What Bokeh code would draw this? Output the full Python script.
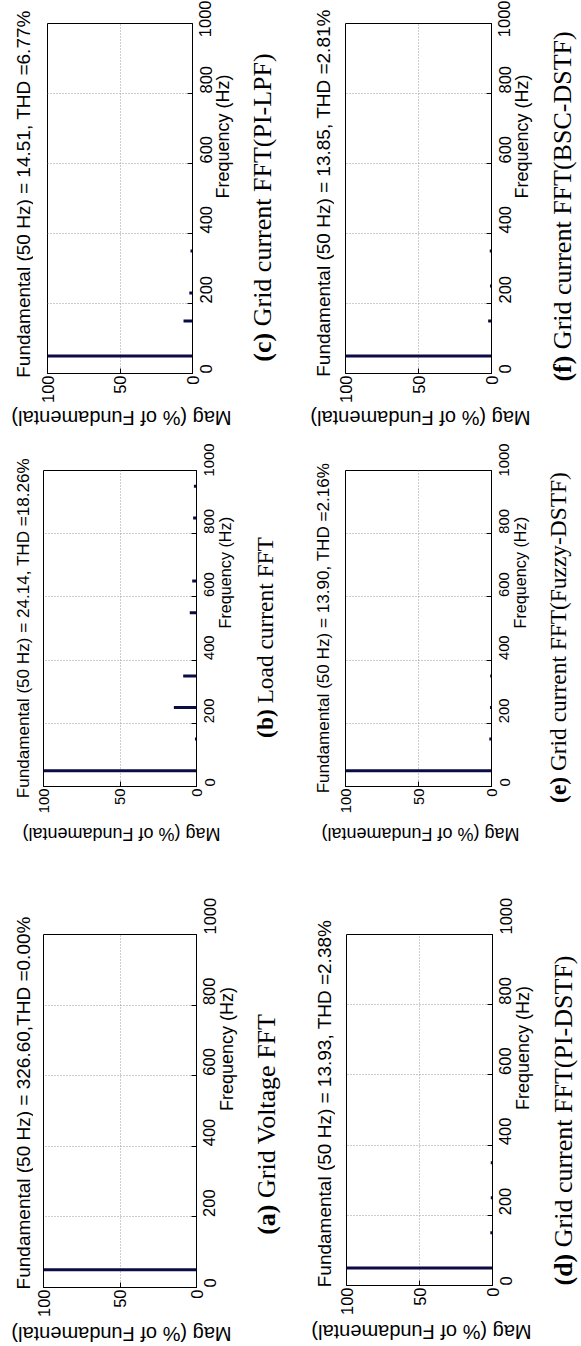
import math
from bokeh.plotting import figure
from bokeh.models import Range1d, Label, FixedTicker
from bokeh.layouts import column, row
from bokeh.embed import file_html
from bokeh.resources import INLINE

# ---------------- data ----------------
freq_ticks = [0, 200, 400, 600, 800, 1000]
mag_ticks = [0, 50, 100]

a_freq = [50]
a_mag = [100]
b_freq = [50, 150, 250, 350, 550, 650, 850, 950]
b_mag = [100, 1.0, 14.8, 8.7, 4.4, 2.8, 2.2, 1.7]
c_freq = [50, 150, 230, 350]
c_mag = [100, 6.2, 2.2, 1.4]
d_freq = [50, 150, 250, 350]
d_mag = [100, 1.5, 1.2, 1.2]
e_freq = [50, 150, 250, 350]
e_mag = [100, 1.5, 1.0, 0.9]
f_freq = [50, 150, 250, 350]
f_mag = [100, 2.3, 1.0, 1.2]

titles = {
    "a": "Fundamental (50 Hz) = 326.60,THD =0.00%",
    "b": "Fundamental (50 Hz) = 24.14, THD =18.26%",
    "c": "Fundamental (50 Hz) = 14.51, THD =6.77%",
    "d": "Fundamental (50 Hz) = 13.93, THD =2.38%",
    "e": "Fundamental (50 Hz) = 13.90, THD =2.16%",
    "f": "Fundamental (50 Hz) = 13.85, THD =2.81%",
}
cap_bold = {"a": "(a)", "b": "(b)", "c": "(c)", "d": "(d)", "e": "(e)", "f": "(f)"}
cap_rest = {
    "a": "Grid Voltage FFT",
    "b": "Load current FFT",
    "c": "Grid current FFT(PI-LPF)",
    "d": "Grid current FFT(PI-DSTF)",
    "e": "Grid current FFT(Fuzzy-DSTF)",
    "f": "Grid current FFT(BSC-DSTF)",
}
x_label = "Mag (% of Fundamental)"
y_label = "Frequency (Hz)"

# ---------------- styling helpers ----------------
TIMES_R = {' ': 250, '(': 333, ')': 333, '-': 333, 'A': 722, 'B': 667, 'C': 667, 'D': 722,
           'F': 556, 'G': 722, 'I': 333, 'L': 611, 'P': 556, 'S': 556, 'T': 611, 'V': 722,
           'Z': 611, 'a': 444, 'c': 444, 'd': 500, 'e': 444, 'g': 500, 'i': 278, 'l': 278,
           'n': 500, 'o': 500, 'r': 333, 't': 278, 'u': 500, 'y': 500, 'z': 444}
TIMES_B = {'(': 333, ')': 333, 'a': 500, 'b': 556, 'c': 444, 'd': 556, 'e': 444, 'f': 333}
ARIAL = {'M': 833, 'a': 556, 'g': 556, ' ': 278, '(': 333, '%': 889, 'o': 556, 'f': 278,
         'F': 611, 'u': 556, 'n': 556, 'd': 556, 'm': 833, 'e': 556, 't': 278, 'l': 222,
         ')': 333, 'H': 722, 'z': 500, '=': 584, '.': 278, ',': 278, 'T': 611, 'D': 722}


def tw(s, table, size):
    return sum(table.get(ch, 556) for ch in s) / 1000.0 * size


SANS = "Liberation Sans"
SERIF = "Liberation Serif"
BAR = "#0b0b45"

# page-coordinate geometry
BLOCK_COL = {1: (0, 290), 2: (290, 581)}
TITLE_COL = {1: (0, 33), 2: (290, 334)}
MAIN_RIGHT = {1: 248, 2: 540}
ROW = {1: (0, 440), 2: (440, 860), 3: (860, 1346)}
geom = {
    "c": dict(col=1, row=1, fx=(47, 192), fy=(23, 373), tick_bot=403, tcx=23, tcy=193.5,
              ccx=262, ccy=207, mcx=121, mcy=413, fs=1.0),
    "f": dict(col=2, row=1, fx=(345, 491), fy=(23, 373), tick_bot=403, tcx=322.5, tcy=192.5,
              ccx=557.5, ccy=206, mcx=420, mcy=413, fs=1.0),
    "b": dict(col=1, row=2, fx=(43, 196), fy=(467, 783), tick_bot=811, tcx=23, tcy=624.5,
              ccx=264.5, ccy=634, mcx=121, mcy=828.5, fs=0.9),
    "e": dict(col=2, row=2, fx=(345, 491), fy=(467, 783), tick_bot=811, tcx=322.5, tcy=624.5,
              ccx=557.5, ccy=634, mcx=420, mcy=828.5, fs=0.9),
    "a": dict(col=1, row=3, fx=(43, 196), fy=(929, 1282), tick_bot=1312, tcx=23, tcy=1097.5,
              ccx=265, ccy=1117, mcx=121, mcy=1325, fs=1.0),
    "d": dict(col=2, row=3, fx=(345, 491), fy=(929, 1280), tick_bot=1312, tcx=322.5, tcy=1098,
              ccx=557.5, ccy=1115, mcx=420, mcy=1325, fs=1.0),
}


def no_align(fig):
    if "frame_align" in fig.properties():
        fig.frame_align = False


def blank(w, h):
    q = figure(width=w, height=h, min_border=0, x_range=Range1d(0, w), y_range=Range1d(0, h),
               x_axis_type=None, y_axis_type=None, output_backend="svg",
               toolbar_location=None, tools="", title=None)
    q.outline_line_color = None
    q.grid.visible = False
    q.background_fill_color = "white"
    q.border_fill_color = "white"
    no_align(q)
    return q


def vlabel(q, x, y, text, font, size, style="normal"):
    # text rotated 90 deg counter-clockwise, starting at (x, y) and running upwards
    q.add_layout(Label(x=x, y=y, text=text, angle=math.pi / 2, text_align="left",
                       text_baseline="middle", text_font=font, text_font_style=style,
                       text_font_size="%.1fpx" % size, text_color="black"))


def make_panel(key, freqs, mags):
    g = geom[key]
    tx1 = TITLE_COL[g["col"]][1]
    cx1 = MAIN_RIGHT[g["col"]]
    cy0 = ROW[g["row"]][0]
    fx0, fx1 = g["fx"]
    fy0, fy1 = g["fy"]
    s = g["fs"]
    p = figure(frame_width=fx1 - fx0, frame_height=fy1 - fy0,
               min_border_left=fx0 - tx1, min_border_right=cx1 - fx1,
               min_border_top=fy0 - cy0, min_border_bottom=g["tick_bot"] - fy1,
               x_range=Range1d(100, 0), y_range=Range1d(0, 1000),
               y_axis_location="right", output_backend="svg",
               toolbar_location=None, tools="", title=None)
    no_align(p)
    p.background_fill_color = "white"
    p.border_fill_color = "white"
    p.outline_line_color = "black"
    p.outline_line_width = 1

    p.xgrid.ticker = FixedTicker(ticks=mag_ticks)
    p.ygrid.ticker = FixedTicker(ticks=freq_ticks)
    for gr in (p.xgrid, p.ygrid):
        gr.grid_line_color = "#9a9a9a"
        gr.grid_line_dash = "1 2"
        gr.grid_line_width = 1

    for ax, ticks in ((p.xaxis, mag_ticks), (p.yaxis, freq_ticks)):
        ax.ticker = FixedTicker(ticks=ticks)
        ax.major_label_orientation = math.pi / 2
        ax.major_label_text_font = SANS
        ax.major_label_text_font_size = "%.1fpx" % (16.5 * s)
        ax.major_label_text_color = "black"
        ax.major_tick_in = 5
        ax.major_tick_out = 0
        ax.minor_tick_line_color = None
        ax.axis_line_color = "black"
        ax.major_tick_line_color = "black"
        ax.axis_label_text_font = SANS
        ax.axis_label_text_font_style = "normal"
        ax.axis_label_text_color = "black"
    p.xaxis.major_label_standoff = 2
    p.yaxis.major_label_standoff = 13

    p.yaxis.axis_label = y_label
    p.yaxis.axis_label_text_font_size = "%.1fpx" % (18 * s)
    p.yaxis.axis_label_orientation = math.pi / 2
    p.yaxis.axis_label_standoff = 2

    p.segment(x0=[0] * len(freqs), y0=freqs, x1=mags, y1=freqs,
              line_color=BAR, line_width=3, line_cap="butt")
    return p


def make_title(key):
    g = geom[key]
    x0, x1 = TITLE_COL[g["col"]]
    y0 = ROW[g["row"]][0]
    y1 = g["tick_bot"]
    q = blank(x1 - x0, y1 - y0)
    sz = 19 * g["fs"]
    wt = tw(titles[key], ARIAL, sz)
    start_page = g["tcy"] + wt / 2.0
    vlabel(q, g["tcx"] - x0, y1 - start_page, titles[key], SANS, sz)
    return q


def make_caption(key):
    g = geom[key]
    x0 = MAIN_RIGHT[g["col"]]
    x1 = BLOCK_COL[g["col"]][1]
    y0 = ROW[g["row"]][0]
    y1 = g["tick_bot"]
    q = blank(x1 - x0, y1 - y0)
    csz = 26 * g["fs"]
    wb = tw(cap_bold[key], TIMES_B, csz)
    wsp = tw(" ", TIMES_R, csz)
    wr = tw(cap_rest[key], TIMES_R, csz)
    start_page = g["ccy"] + (wb + wsp + wr) / 2.0
    cx = g["ccx"] - x0
    vlabel(q, cx, y1 - start_page, cap_bold[key], SERIF, csz, "bold")
    vlabel(q, cx, y1 - (start_page - wb - wsp), cap_rest[key], SERIF, csz)
    return q


def make_maglabel(key):
    g = geom[key]
    cx0, cx1 = BLOCK_COL[g["col"]]
    top = g["tick_bot"]
    h = ROW[g["row"]][1] - top
    q = blank(cx1 - cx0, h)
    sz = 20 * g["fs"]
    wl = tw(x_label, ARIAL, sz)
    cy = max(g["mcy"], top + 11)
    # upside-down text: starts at its right end and runs leftwards
    q.add_layout(Label(x=g["mcx"] - cx0 + wl / 2.0, y=h - (cy - top), text=x_label,
                       angle=math.pi, text_align="left", text_baseline="middle",
                       text_font=SANS, text_font_size="%.1fpx" % sz,
                       text_color="black"))
    return q


data = {"a": (a_freq, a_mag), "b": (b_freq, b_mag), "c": (c_freq, c_mag),
        "d": (d_freq, d_mag), "e": (e_freq, e_mag), "f": (f_freq, f_mag)}


def block(k):
    return column(row(make_title(k), make_panel(k, *data[k]), make_caption(k)),
                  make_maglabel(k))


layout = column(
    row(block("c"), block("f")),
    row(block("b"), block("e")),
    row(block("a"), block("d")),
)
open("out.html", "w").write(file_html(layout, INLINE))
